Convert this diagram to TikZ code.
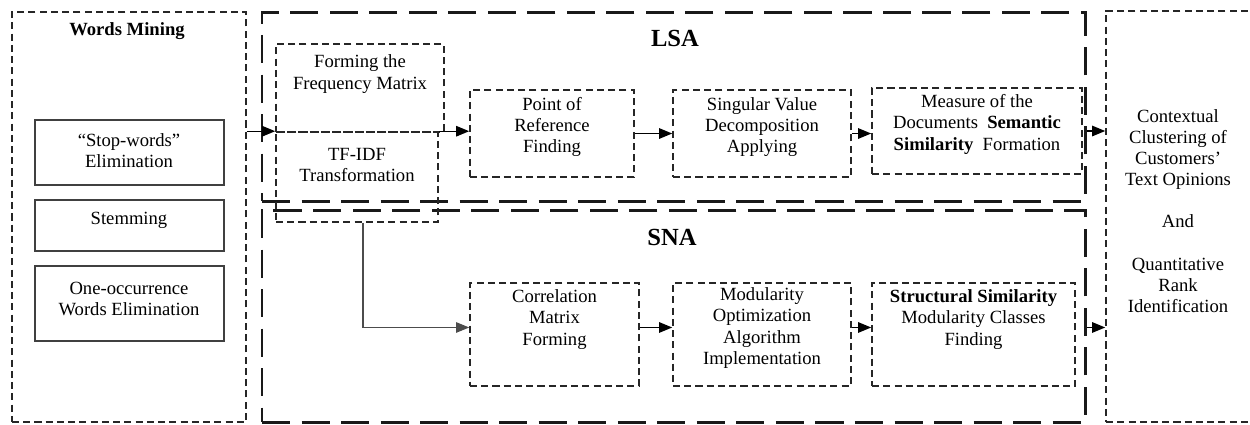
\documentclass[tikz,border=0pt]{standalone}
\usepackage{fontspec}
\setmainfont{Liberation Serif}
\usetikzlibrary{arrows.meta,fit}
\begin{document}
\begin{tikzpicture}[x=0.02cm,y=-0.02cm,
  font=\fontsize{10.6}{12}\selectfont,
  sbox/.style={draw=black!85, line width=0.9pt, dash pattern=on 4pt off 2.4pt, inner sep=0pt},
  bigbox/.style={draw=black!90, line width=1.7pt, dash pattern=on 16pt off 6.5pt, inner sep=0pt},
  solidbox/.style={draw=black!75, line width=0.6pt, inner sep=0pt},
  txt/.style={align=center, inner sep=0pt},
  arr/.style={-{Triangle[length=7.5pt,width=6pt]}, line width=0.8pt, draw=black},
  thinarr/.style={-{Triangle[length=7.5pt,width=6pt]}, line width=0.6pt, draw=black!70}
]
\clip (0,0) rectangle (1250,424);

% Words mining
\node[sbox, fit={(12,12) (246,422)}] (wm) {};
\node[txt, font=\fontsize{10.6}{12}\selectfont\bfseries] (wmt) at (127,31) {Words Mining};
\node[solidbox, fit={(35,120) (224,185)}] (sw) {};
\node[txt] (swt) at (129,151) {``Stop-words''\\Elimination};
\node[solidbox, fit={(35,200) (224,251)}] (st) {};
\node[txt] (stt) at (129,220) {Stemming};
\node[solidbox, fit={(35,266) (224,341)}] (oo) {};
\node[txt] (oot) at (129,299) {One-occurrence\\Words Elimination};

% LSA / SNA frames
\node[bigbox, fit={(262,12) (1085,201)}] (lsa) {};
\node[txt, font=\fontsize{14}{16}\selectfont\bfseries] (lsat) at (675,38) {LSA};
\node[bigbox, fit={(262,210) (1085,422)}] (sna) {};
\node[txt, font=\fontsize{14}{16}\selectfont\bfseries] (snat) at (672,237) {SNA};

% LSA boxes
\node[sbox, fit={(276,44) (444,132)}] (fm) {};
\node[txt] (fmt) at (360,74) {Forming the\\Frequency Matrix};
\node[sbox, fit={(276,132) (438,222)}] (tf) {};
\node[txt] (tft) at (357,165) {TF-IDF\\Transformation};
\node[sbox, txt, fit={(470,90) (634,177)}] (por) {Point of\\Reference\\Finding};
\node[sbox, txt, fit={(673,90) (851,177)}] (svd) {Singular Value\\Decomposition\\Applying};
\node[sbox, txt, fit={(872,88) (1082,174)}] (meas) {Measure of the\\Documents\ \ \textbf{Semantic}\\\textbf{Similarity}\ \ Formation};

% SNA boxes
\node[sbox, txt, fit={(470,283) (639,386)}] (corr) {Correlation\\Matrix\\Forming\\\phantom{X}};
\node[sbox, txt, fit={(673,283) (851,386)}] (mod) {Modularity\\Optimization\\Algorithm\\Implementation};
\node[sbox, txt, fit={(872,283) (1075,386)}] (str) {\textbf{Structural Similarity}\\Modularity Classes\\Finding\\\phantom{X}};

% Output
\node[sbox, fit={(1106,11) (1275,422)}] (out) {};
\node[txt] (outt) at (1178,211) {Contextual\\Clustering of\\Customers'\\Text Opinions\\[12pt]And\\[12pt]Quantitative\\Rank\\Identification};

% connectors
\draw[arr] (wm.east |- tf.north) -- (tf.north west);
\draw[arr] (tf.north east) -- (por.west |- tf.north);
\draw[arr] (por) -- (svd);
\draw[arr] (svd.east) -- (svd.east -| meas.west);
\draw[arr] (meas.east -| lsa.east) -- (meas.east -| out.west);

\coordinate (tb) at ([xshift=3.4pt]tf.south);
\coordinate (cc) at ([yshift=4pt]corr.west);
\coordinate (ce) at ([yshift=4pt]corr.east);
\coordinate (me) at ([yshift=4pt]mod.east);
\coordinate (se) at ([yshift=4pt]str.east);
\draw[thinarr] (tb) |- (cc);
\draw[arr] (ce) -- (ce -| mod.west);
\draw[arr] (me) -- (me -| str.west);
\draw[arr] (se -| sna.east) -- (se -| out.west);
\end{tikzpicture}
\end{document}
